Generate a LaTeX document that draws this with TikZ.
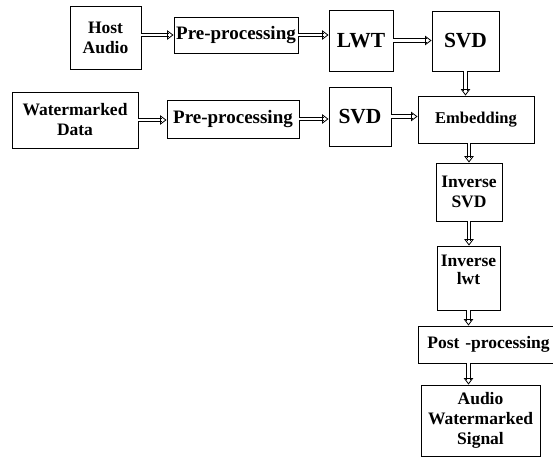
\documentclass[tikz,border=0pt]{standalone}
\usepackage{fontspec}
\setmainfont{Liberation Serif}
\usetikzlibrary{arrows.meta,decorations.markings}
\begin{document}
\begin{tikzpicture}[x=1pt,y=-1pt,
                blk/.style={draw, line width=0.9pt, inner sep=0pt, align=center,
                            font=\bfseries\fontsize{17.5}{20}\selectfont},
                big/.style={blk, font=\bfseries\fontsize{21.5}{24}\selectfont},
                arr/.style={draw, double, double distance=2.8pt, line width=0.8pt, shorten >=5pt,
                            postaction={decorate, decoration={markings,
                              mark=at position 1 with {\arrow[line width=0.8pt]{Triangle[open,length=6.5pt,width=9.5pt]}}}}}]
                \useasboundingbox (0,0) rectangle (553,457);
                \clip (0,0) rectangle (553,457);
                
                \node[blk, minimum width=71pt, minimum height=63pt] (host) at (105.5,37.5) {Host\\Audio};
                \node[blk, minimum width=124pt, minimum height=36pt,
                      font=\bfseries\fontsize{19}{20}\selectfont] (pre1) at (236,35) {Pre-processing};
                \node[big, minimum width=64pt, minimum height=61pt] (lwt) at (361,40.5) {LWT};
                \node[big, minimum width=67pt, minimum height=60pt] (svda) at (465.5,41) {SVD};
                
                \node[blk, minimum width=126pt, minimum height=56pt] (wmd) at (75,120) {Watermarked\\Data};
                \node[blk, minimum width=132pt, minimum height=38pt,
                      font=\bfseries\fontsize{19}{20}\selectfont] (pre2) at (233,119) {Pre-processing};
                \node[big, minimum width=62pt, minimum height=59pt] (svdb) at (360,116.5) {SVD};
                \node[blk, minimum width=116pt, minimum height=47pt,
                      font=\bfseries\fontsize{16.5}{20}\selectfont] (emb) at (476,119.5) {Embedding};
                
                \node[blk, minimum width=66pt, minimum height=58pt] (isvd) at (469,192) {Inverse\\SVD};
                \node[blk, minimum width=63pt, minimum height=64pt] (ilwt) at (468.5,278) {Inverse\\[-2pt]\mbox{lwt}\hspace*{10pt}\\[-4pt]\mbox{}};
                \node[blk, anchor=west, align=left, text width=124pt, inner xsep=9pt,
                      minimum height=37pt] (post) at (418,344.5) {Post -processing};
                \node[blk, minimum width=119pt, minimum height=71pt] (aws) at (480.5,420.5) {Audio\\Watermarked\\Signal};
                
                \path (host.east |- pre1.west) edge[arr] (pre1.west)
                      (pre1.east) edge[arr] (pre1.east -| lwt.west)
                      (lwt.east) edge[arr] (lwt.east -| svda.west)
                      (svda.south) edge[arr] (svda.south |- emb.north)
                      (wmd.east) edge[arr] (wmd.east -| pre2.west)
                      (pre2.east) edge[arr] (pre2.east -| svdb.west)
                      (svdb.east) edge[arr] (svdb.east -| emb.west)
                      (isvd.north |- emb.south) edge[arr] (isvd.north)
                      (isvd.south) edge[arr] (isvd.south |- ilwt.north)
                      (ilwt.south) edge[arr] (ilwt.south |- post.north)
                      (ilwt.south |- post.south) edge[arr] (ilwt.south |- aws.north)
                ;
            \end{tikzpicture}
\end{document}
